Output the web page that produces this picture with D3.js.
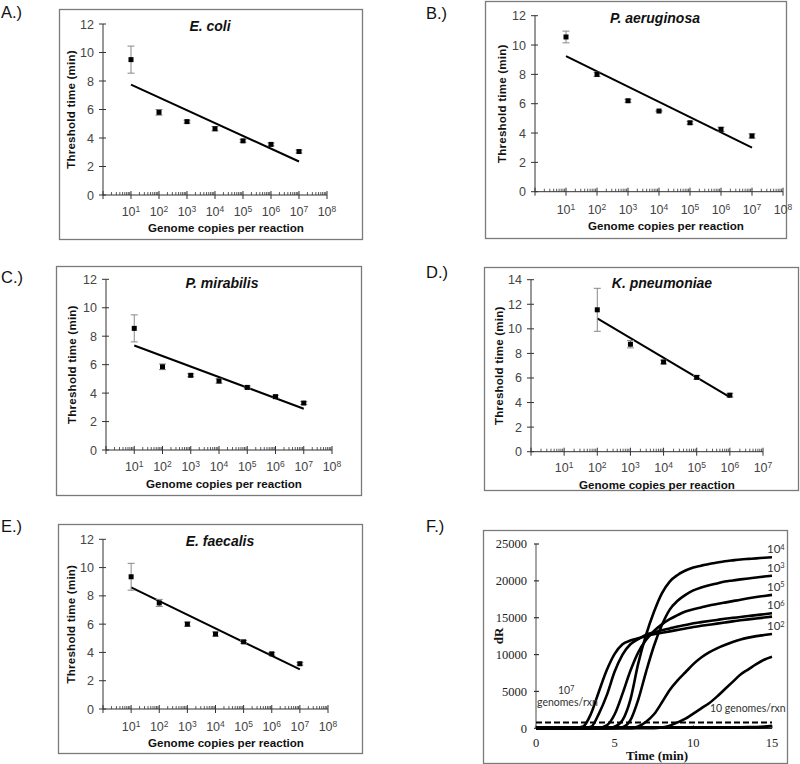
<!DOCTYPE html>
<html><head><meta charset="utf-8">
<script src="https://cdn.jsdelivr.net/npm/d3@7"></script>
<style>body{margin:0;background:#fff}</style>
</head><body><svg id="c" width="800" height="764"></svg>
<script>
// ---------- DATA ----------
const panelLabels = ["A.)","B.)","C.)","D.)","E.)","F.)"];
const speciesNames = ["E. coli","P. aeruginosa","P. mirabilis","K. pneumoniae","E. faecalis"];
const copiesSeven = [1e1,1e2,1e3,1e4,1e5,1e6,1e7];
const copiesFive  = [1e2,1e3,1e4,1e5,1e6];

const ecoliTime = [9.5,5.8,5.15,4.65,3.8,3.55,3.05];
const ecoliErr  = [0.95,0.2,0.1,0.15,0.1,0.1,0.1];
const ecoliFit  = [7.75,2.35];

const paerTime = [10.55,8.0,6.2,5.5,4.7,4.25,3.8];
const paerErr  = [0.4,0.15,0.1,0.05,0.1,0.15,0.15];
const paerFit  = [9.25,3.0];

const pmirTime = [8.55,5.85,5.25,4.85,4.4,3.75,3.3];
const pmirErr  = [0.95,0.2,0.1,0.15,0.1,0.1,0.1];
const pmirFit  = [7.35,2.9];

const kpneTime = [11.55,8.75,7.3,6.05,4.6];
const kpneErr  = [1.75,0.3,0.15,0.15,0.15];
const kpneFit  = [10.85,4.45];

const efaeTime = [9.35,7.5,6.0,5.3,4.75,3.9,3.2];
const efaeErr  = [0.95,0.25,0.15,0.15,0.1,0.1,0.1];
const efaeFit  = [8.6,2.8];

const yTicks12 = [0,2,4,6,8,10,12];
const yTicks14 = [0,2,4,6,8,10,12,14];

// Panel F: amplification curves
const fTime = [0,0.5,1,1.5,2,2.5,3,3.5,4,4.5,5,5.5,6,6.5,7,7.5,8,8.5,9,9.5,10,10.5,11,11.5,12,12.5,13,13.5,14,14.5,15];
const curve1e7 = [0,0,0,0,0,50,250,2000,5000,7900,10100,11400,11900,12200,12500,12750,12950,13150,13350,13550,13750,13900,14050,14200,14350,14500,14650,14780,14900,15020,15150];
const curve1e6 = [0,0,0,0,0,0,0,200,2000,4500,7700,10000,11400,12100,12700,13000,13300,13550,13800,14000,14250,14400,14550,14700,14850,14980,15100,15230,15350,15480,15600];
const curve1e5 = [0,0,0,0,0,0,0,0,50,400,1900,4700,7800,10300,12000,13200,14100,14800,15350,15850,16150,16400,16650,16850,17050,17250,17450,17630,17800,17950,18100];
const curve1e4 = [0,0,0,0,0,0,0,0,0,0,200,1100,3900,8800,12700,15800,18300,19900,20800,21400,21800,22050,22300,22480,22650,22780,22900,22980,23050,23130,23200];
const curve1e3 = [0,0,0,0,0,0,0,0,0,0,0,150,1100,3900,7700,11200,14000,16100,17300,18100,18700,19100,19400,19650,19900,20050,20200,20330,20450,20580,20700];
const curve1e2 = [0,0,0,0,0,0,0,0,0,0,0,0,0,250,900,1900,3500,5200,6500,7600,8700,9600,10300,10850,11300,11700,12050,12300,12500,12650,12800];
const curve1e1 = [0,0,0,0,0,0,0,0,0,0,0,0,0,0,0,0,100,350,800,1300,2000,2700,3400,4300,5300,6300,7300,8000,8700,9300,9700];
const curveNeg = [120,120,120,120,120,120,120,120,120,120,120,120,120,120,120,120,120,120,120,120,120,120,120,120,120,120,120,130,150,200,300];
const thresholdValue = 800;
const fYTicks = [0,5000,10000,15000,20000,25000];
const fXTicks = [0,5,10,15];
const fEndLabels = [["4",23200],["3",20700],["5",18100],["6",15600],["2",12800]];

// ---------- DRAW ----------
const svg = d3.select("#c");
const SANS = "'Liberation Sans', Arial, sans-serif";
const SERIF = "'Liberation Serif', 'Times New Roman', serif";

const layouts = [
  {frame:[59,9,362,239], x0:103,x1:327,xmax:1e8, y0:195,yTop:24, ymax:12, tickY:211, title:[210,26], yt:71, xt:[226,228], lab:[1,18]},
  {frame:[485,1,786,238], x0:535,x1:783,xmax:1e8, y0:191.7,yTop:15.7, ymax:12, tickY:209, title:[655,17.5], yt:502, xt:[666,226], lab:[426,19]},
  {frame:[56,266,361,495], x0:106,x1:332,xmax:1e8, y0:450,yTop:279.3, ymax:12, tickY:466, title:[222,282.5], yt:72, xt:[224,484], lab:[1,283]},
  {frame:[484,267,798,490], x0:531,x1:763,xmax:1e7, y0:451.7,yTop:279.7, ymax:14, tickY:467.5, title:[662,282.5], yt:499, xt:[657,485], lab:[426,278]},
  {frame:[58,524,362,753], x0:103,x1:328,xmax:1e8, y0:709,yTop:539.3, ymax:12, tickY:726, title:[220,541], yt:71, xt:[226,742.5], lab:[1,532]}
];
const panelData = [
  {x:copiesSeven, y:ecoliTime, e:ecoliErr, fit:ecoliFit, yt:yTicks12},
  {x:copiesSeven, y:paerTime, e:paerErr, fit:paerFit, yt:yTicks12},
  {x:copiesSeven, y:pmirTime, e:pmirErr, fit:pmirFit, yt:yTicks12},
  {x:copiesFive, y:kpneTime, e:kpneErr, fit:kpneFit, yt:yTicks14},
  {x:copiesSeven, y:efaeTime, e:efaeErr, fit:efaeFit, yt:yTicks12}
];

function frame(f){
  svg.append("rect").attr("x",f[0]+0.5).attr("y",f[1]+0.5).attr("width",f[2]-f[0]).attr("height",f[3]-f[1])
    .attr("fill","none").attr("stroke","#7a7a7a").attr("stroke-width",1.3);
}
function panelLabel(t,p){
  svg.append("text").attr("x",p[0]).attr("y",p[1]).text(t)
    .attr("font-family",SANS).attr("font-size",16.5).attr("fill","#111");
}

layouts.forEach((L,i)=>{
  const D = panelData[i];
  frame(L.frame);
  panelLabel(panelLabels[i], L.lab);
  const g = svg.append("g");
  const x = d3.scaleLog().domain([1,L.xmax]).range([L.x0,L.x1]);
  const y = d3.scaleLinear().domain([0,L.ymax]).range([L.y0,L.yTop]);
  const axisCol = "#333";
  g.append("line").attr("x1",L.x0).attr("x2",L.x0).attr("y1",y(0)).attr("y2",y(L.ymax)).attr("stroke",axisCol).attr("stroke-width",1);
  D.yt.forEach(t=>{
    g.append("line").attr("x1",L.x0-4).attr("x2",L.x0+3).attr("y1",y(t)).attr("y2",y(t)).attr("stroke",axisCol);
    g.append("text").attr("x",L.x0-9).attr("y",y(t)).attr("dy","0.36em").attr("text-anchor","end")
      .attr("font-family",SANS).attr("font-size",12.5).attr("fill","#444").text(t);
  });
  g.append("line").attr("x1",L.x0).attr("x2",L.x1).attr("y1",L.y0).attr("y2",L.y0).attr("stroke",axisCol).attr("stroke-width",1);
  const nDec = Math.round(Math.log10(L.xmax));
  for(let k=0;k<nDec;k++){
    for(let m=2;m<=9;m++){
      const xv = x(m*Math.pow(10,k));
      g.append("line").attr("x1",xv).attr("x2",xv).attr("y1",L.y0).attr("y2",L.y0-3).attr("stroke",axisCol).attr("stroke-width",0.8);
    }
  }
  for(let k=0;k<=nDec;k++){
    const xv = x(Math.pow(10,k));
    g.append("line").attr("x1",xv).attr("x2",xv).attr("y1",L.y0-4).attr("y2",L.y0+4).attr("stroke",axisCol);
    if(k>=1){
      const t = g.append("text").attr("x",xv).attr("y",L.tickY).attr("dy","0.36em").attr("text-anchor","middle")
        .attr("font-family",SANS).attr("font-size",12.5).attr("fill","#444");
      t.append("tspan").text("10");
      t.append("tspan").attr("dy","-0.45em").attr("font-size",8.5).text(k);
    }
  }
  const xs = D.x;
  g.append("line").attr("x1",x(xs[0])).attr("x2",x(xs[xs.length-1]))
    .attr("y1",y(D.fit[0])).attr("y2",y(D.fit[1])).attr("stroke","#000").attr("stroke-width",2);
  xs.forEach((xv,j)=>{
    const cx = x(xv), lo = y(D.y[j]-D.e[j]), hi = y(D.y[j]+D.e[j]);
    g.append("line").attr("x1",cx).attr("x2",cx).attr("y1",lo).attr("y2",hi).attr("stroke","#888").attr("stroke-width",1);
    [lo,hi].forEach(yy=>g.append("line").attr("x1",cx-3.5).attr("x2",cx+3.5).attr("y1",yy).attr("y2",yy).attr("stroke","#888").attr("stroke-width",1));
    g.append("rect").attr("x",cx-2.5).attr("y",y(D.y[j])-2.5).attr("width",5).attr("height",5).attr("fill","#000");
  });
  g.append("text").attr("x",L.title[0]).attr("y",L.title[1]).attr("dy","0.36em").attr("text-anchor","middle")
    .attr("font-family",SANS).attr("font-weight","bold").attr("font-style","italic").attr("font-size",14).attr("fill","#111").text(speciesNames[i]);
  g.append("text").attr("transform",`translate(${L.yt},${(y(0)+y(L.ymax))/2}) rotate(-90)`).attr("dy","0.36em").attr("text-anchor","middle")
    .attr("font-family",SANS).attr("font-weight","bold").attr("font-size",11.6).attr("letter-spacing",0.2).attr("fill","#111").text("Threshold time (min)");
  g.append("text").attr("x",L.xt[0]).attr("y",L.xt[1]).attr("dy","0.36em").attr("text-anchor","middle")
    .attr("font-family",SANS).attr("font-weight","bold").attr("font-size",11.6).attr("fill","#111").text("Genome copies per reaction");
});

// ---------- Panel F ----------
(function(){
  frame([483,530,787,763]);
  panelLabel(panelLabels[5],[426,532]);
  const g = svg.append("g");
  const x = d3.scaleLinear().domain([0,15]).range([536,772]);
  const y = d3.scaleLinear().domain([0,25000]).range([728.3,544]);
  g.append("line").attr("x1",x(0)).attr("x2",x(0)).attr("y1",y(0)).attr("y2",y(25000)).attr("stroke","#888").attr("stroke-width",1.5);
  g.append("line").attr("x1",x(0)).attr("x2",x(15)).attr("y1",y(0)).attr("y2",y(0)).attr("stroke","#222").attr("stroke-width",1.2);
  fYTicks.forEach(t=>{
    g.append("line").attr("x1",x(0)-2).attr("x2",x(0)+3).attr("y1",y(t)).attr("y2",y(t)).attr("stroke","#333").attr("stroke-width",1.2);
    g.append("text").attr("x",527).attr("y",y(t)).attr("dy","0.35em").attr("text-anchor","end")
      .attr("font-family",SERIF).attr("font-size",12.5).attr("fill","#222").text(t);
  });
  fXTicks.forEach(t=>{
    g.append("line").attr("x1",x(t)).attr("x2",x(t)).attr("y1",y(0)).attr("y2",y(0)-3).attr("stroke","#333");
    g.append("text").attr("x",x(t)).attr("y",743).attr("dy","0.35em").attr("text-anchor","middle")
      .attr("font-family",SERIF).attr("font-size",12.5).attr("fill","#222").text(t);
  });
  g.append("text").attr("x",657).attr("y",755).attr("dy","0.35em").attr("text-anchor","middle")
    .attr("font-family",SERIF).attr("font-weight","bold").attr("font-size",13).attr("fill","#111").text("Time (min)");
  g.append("text").attr("transform","translate(498,636) rotate(-90)").attr("dy","0.35em").attr("text-anchor","middle")
    .attr("font-family",SERIF).attr("font-weight","bold").attr("font-size",13).attr("fill","#111").text("dR");
  g.append("line").attr("x1",x(0)).attr("x2",x(15)).attr("y1",y(thresholdValue)).attr("y2",y(thresholdValue))
    .attr("stroke","#000").attr("stroke-width",2).attr("stroke-dasharray","6,3");
  const line = d3.line().x((d,i)=>x(fTime[i])).y(d=>y(d)).curve(d3.curveMonotoneX);
  [curveNeg,curve1e7,curve1e6,curve1e5,curve1e4,curve1e3,curve1e2,curve1e1].forEach((c,k)=>{
    g.append("path").attr("d",line(c)).attr("fill","none").attr("stroke","#000").attr("stroke-width",k===0?3:2.6).attr("stroke-linejoin","round");
  });
  const LF = "Lato, 'Open Sans', sans-serif";
  fEndLabels.forEach(([e,v])=>{
    const t = g.append("text").attr("x",767).attr("y",y(v)-4).attr("font-family",LF).attr("font-size",11.5).attr("fill","#333");
    t.append("tspan").text("10");
    t.append("tspan").attr("dy","-0.45em").attr("font-size",7.5).text(e);
  });
  const t7 = g.append("text").attr("x",558).attr("y",694).attr("font-family",LF).attr("font-size",10.5).attr("fill","#333");
  t7.append("tspan").text("10"); t7.append("tspan").attr("dy","-0.45em").attr("font-size",7).text("7");
  g.append("text").attr("x",537).attr("y",706).attr("font-family",LF).attr("font-size",10.5).attr("fill","#333").text("genomes/rxn");
  g.append("text").attr("x",710).attr("y",712).attr("font-family",LF).attr("font-size",10.5).attr("fill","#333").text("10 genomes/rxn");
})();
</script></body></html>
